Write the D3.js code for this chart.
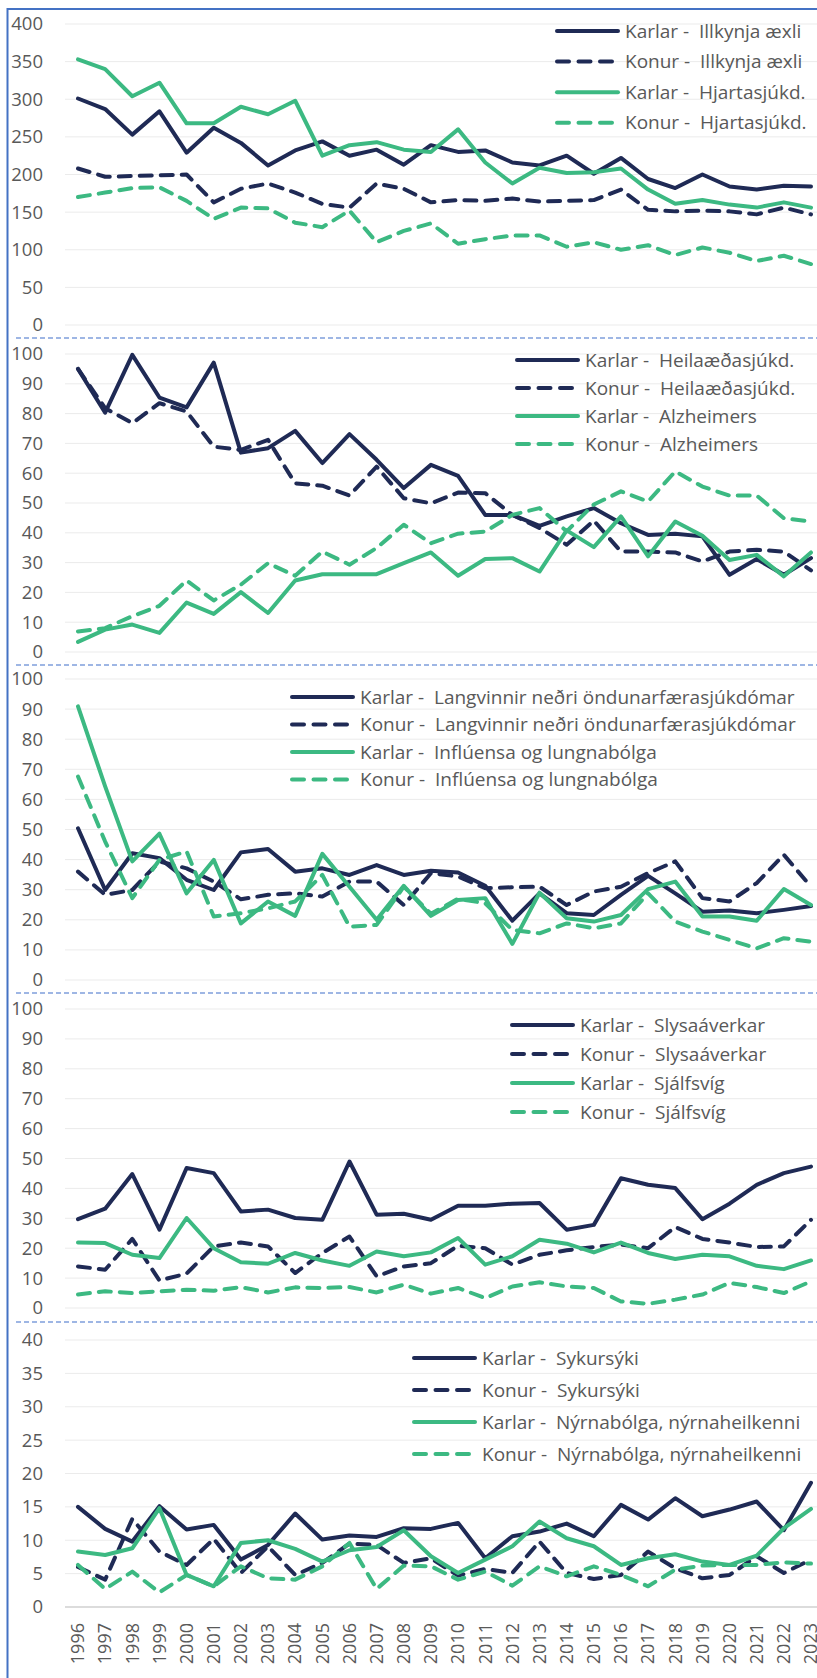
<!DOCTYPE html>
<html>
<head>
<meta charset="utf-8">
<script src="https://cdn.jsdelivr.net/npm/d3@7"></script>
<style>
  body { margin: 0; background: #fff; }
  svg { display: block; }
  text { font-family: "Open Sans", sans-serif; fill: #595959; }
</style>
</head>
<body>
<svg id="chart" width="817" height="1678"></svg>
<script>
// Years
let years = d3.range(1996, 2024)

// Panel 1
let illkynjaKarlar = [301, 287, 253, 284, 229, 262, 242, 212, 232, 244, 225, 233, 213, 239, 230, 232, 216, 212, 225, 201, 222, 194, 182, 200, 184, 180, 185, 184]
let illkynjaKonur = [208, 197, 198, 199, 200, 163, 181, 188, 176, 161, 156, 188, 181, 163, 166, 165, 168, 164, 165, 166, 180, 153, 151, 152, 151, 147, 156, 147]
let hjartaKarlar = [353, 340, 304, 322, 268, 268, 290, 280, 298, 225, 239, 243, 233, 230, 260, 216, 188, 209, 202, 203, 208, 180, 161, 166, 160, 156, 163, 156]
let hjartaKonur = [170, 176, 182, 183, 165, 141, 156, 155, 136, 130, 152, 110, 125, 135, 108, 114, 119, 119, 104, 110, 100, 106, 93, 103, 96, 85, 92, 81]

// Panel 2
let heilaKarlar = [95, 80.3, 99.7, 85.4, 82.1, 97.1, 66.9, 68.4, 74.2, 63.4, 73.1, 64.5, 55, 62.8, 59.1, 46, 46, 42.3, 45.5, 48.3, 43.2, 39.3, 39.7, 38.8, 25.9, 31.2, 25.9, 31.5]
let heilaKonur = [95, 81.8, 76.8, 83.5, 80.7, 68.9, 67.8, 71.2, 56.6, 55.8, 52.5, 62.2, 51.6, 49.9, 53.5, 53.3, 46, 41.6, 36, 44.1, 33.7, 33.7, 33.4, 30.4, 33.7, 34.3, 33.7, 27.4]
let alzKarlar = [3.4, 7.5, 9.2, 6.4, 16.6, 12.8, 20.1, 13.1, 24, 26.1, 26.1, 26.1, 29.8, 33.4, 25.6, 31.2, 31.5, 27, 40.8, 35.2, 45.5, 32.1, 43.8, 39, 30.9, 32.6, 25.4, 33.4]
let alzKonur = [6.9, 8, 12, 15.5, 24, 17.3, 22.6, 29.8, 25.6, 33.7, 29.3, 34.9, 42.7, 36.5, 39.7, 40.4, 46, 48.3, 40.5, 49.5, 53.9, 50.5, 60.6, 55.5, 52.5, 52.5, 44.9, 43.8]

// Panel 3
let langKarlar = [50.4, 29.9, 42.1, 40.5, 33.3, 29.9, 42.4, 43.5, 36, 37.1, 34.9, 38.2, 34.9, 36.3, 35.7, 31.3, 19.7, 28.8, 22.2, 21.6, 28.3, 34.6, 28.8, 22.7, 23.1, 22.2, 23.3, 24.6]
let langKonur = [36, 28.3, 29.9, 39.4, 37.1, 32.7, 26.8, 28.3, 28.8, 27.7, 32.7, 32.7, 24.9, 35.5, 34.4, 30.5, 30.8, 31, 24.9, 29.4, 31, 35.5, 39.4, 27.2, 26.1, 32.2, 41.6, 31]
let inflKarlar = [90.9, 64.3, 39.4, 48.6, 28.8, 39.9, 18.8, 26.1, 21.3, 41.9, 31, 20, 31.3, 21.3, 26.6, 27.2, 12, 29, 20.5, 19.4, 21.6, 30.2, 32.7, 21.1, 21.1, 19.7, 30.2, 24.9]
let inflKonur = [67.6, 46, 27.2, 39.9, 42.7, 21.1, 22.2, 23.8, 26.1, 34.9, 17.7, 18.3, 31, 22, 27, 25.5, 16.6, 15.5, 18.8, 17.2, 18.8, 28.8, 19.4, 16.1, 13.3, 10.5, 13.9, 12.7]

// Panel 4
let slysKarlar = [29.7, 33.2, 44.8, 26.2, 46.8, 45.1, 32.3, 32.9, 30.1, 29.5, 49, 31.2, 31.5, 29.5, 34.2, 34.2, 34.9, 35.1, 26.2, 27.8, 43.4, 41.2, 40.1, 29.7, 34.9, 41.2, 45.1, 47.3]
let slysKonur = [13.9, 12.8, 23.1, 9.2, 11.5, 20.6, 21.9, 20.6, 11.7, 18.4, 23.9, 10.6, 13.9, 15, 20.8, 20, 14.5, 17.8, 19.3, 20.4, 21.2, 20, 27.1, 23.1, 21.9, 20.4, 20.6, 29.5]
let sjalfKarlar = [21.9, 21.7, 17.8, 16.7, 30.1, 20, 15.3, 14.8, 18.4, 15.9, 14.1, 18.9, 17.3, 18.6, 23.4, 14.5, 17.3, 22.8, 21.5, 18.6, 21.9, 18.4, 16.4, 17.8, 17.3, 14.1, 13, 15.9]
let sjalfKonur = [4.5, 5.6, 5, 5.6, 6.1, 5.8, 7, 5.2, 6.9, 6.7, 7, 5.2, 7.8, 4.8, 6.7, 3.3, 7.2, 8.6, 7.2, 6.7, 2.2, 1.4, 2.8, 4.5, 8.4, 7, 5, 8.9]

// Panel 5
let sykurKarlar = [15, 11.7, 9.8, 15.1, 11.6, 12.3, 7.1, 9.3, 14, 10.1, 10.7, 10.5, 11.8, 11.7, 12.6, 7.3, 10.6, 11.3, 12.5, 10.6, 15.3, 13.1, 16.3, 13.6, 14.6, 15.8, 11.5, 18.6]
let sykurKonur = [6, 4.1, 13.2, 8.3, 6.3, 10.2, 5.1, 9.1, 4.8, 6.6, 9.5, 9.3, 6.6, 7.3, 4.7, 5.7, 5.1, 9.8, 5.1, 4.2, 4.8, 8.3, 5.8, 4.3, 4.8, 7.6, 5.1, 7.1]
let nyrnaKarlar = [8.3, 7.8, 8.8, 14.8, 4.8, 3.1, 9.6, 10, 8.7, 6.8, 8.5, 9, 11.5, 7.6, 5.1, 7.1, 9.1, 12.8, 10.3, 9.1, 6.3, 7.3, 7.9, 6.8, 6.3, 7.7, 11.8, 14.7]
let nyrnaKonur = [6.3, 2.7, 5.3, 2.2, 4.8, 3.1, 6.1, 4.3, 4.1, 6.1, 9.6, 2.7, 6.2, 6.1, 4.1, 5.3, 3.2, 6.1, 4.6, 6.1, 4.8, 3.1, 5.6, 6.2, 6.3, 6.3, 6.7, 6.5]

// Causes and tick values per panel
let causes = [
  ['Illkynja æxli', 'Hjartasjúkd.'],
  ['Heilaæðasjúkd.', 'Alzheimers'],
  ['Langvinnir neðri öndunarfærasjúkdómar', 'Inflúensa og lungnabólga'],
  ['Slysaáverkar', 'Sjálfsvíg'],
  ['Sykursýki', 'Nýrnabólga, nýrnaheilkenni']
]
let seriesData = [
  [illkynjaKarlar, illkynjaKonur, hjartaKarlar, hjartaKonur],
  [heilaKarlar, heilaKonur, alzKarlar, alzKonur],
  [langKarlar, langKonur, inflKarlar, inflKonur],
  [slysKarlar, slysKonur, sjalfKarlar, sjalfKonur],
  [sykurKarlar, sykurKonur, nyrnaKarlar, nyrnaKonur]
]
let tickValues = [
  d3.range(0, 401, 50),
  d3.range(0, 101, 10),
  d3.range(0, 101, 10),
  d3.range(0, 101, 10),
  d3.range(0, 41, 5)
]

// Layout of each panel
let panels = [
  { top: 24, bottom: 325, legX: 555, legY: 31, legStep: 30.6 },
  { top: 354, bottom: 652, legX: 515, legY: 360, legStep: 28 },
  { top: 679, bottom: 980, legX: 290, legY: 697, legStep: 27.5 },
  { top: 1009, bottom: 1308, legX: 510, legY: 1025, legStep: 29 },
  { top: 1340, bottom: 1607, legX: 412, legY: 1358, legStep: 32 }
]
let separators = [338, 665, 993, 1322]

let navy = '#1f2a55'
let green = '#3cb982'
let styles = [
  { color: navy, dash: null, sex: 'Karlar' },
  { color: navy, dash: '12,9', sex: 'Konur' },
  { color: green, dash: null, sex: 'Karlar' },
  { color: green, dash: '12,9', sex: 'Konur' }
]

let svg = d3.select('#chart')

let x = d3.scalePoint()
  .domain(years)
  .range([78, 811])

let gridLeft = 65
let gridRight = 830

panels.forEach((p, i) => {
  let ticks = tickValues[i]
  let y = d3.scaleLinear()
    .domain([0, d3.max(ticks)])
    .range([p.bottom, p.top])

  let g = svg.append('g')

  // Gridlines
  g.selectAll('.grid')
    .data(ticks)
    .enter()
    .append('line')
    .attr('x1', gridLeft)
    .attr('x2', gridRight)
    .attr('y1', d => y(d))
    .attr('y2', d => y(d))
    .attr('stroke', (d) => (i == 4 && d == 0) ? '#d0d0d0' : '#ebebeb')
    .attr('stroke-width', (d) => (i == 4 && d == 0) ? 1.5 : 1)

  // Tick labels
  g.selectAll('.tick')
    .data(ticks)
    .enter()
    .append('text')
    .attr('x', 43)
    .attr('y', d => y(d))
    .attr('dy', '0.35em')
    .attr('text-anchor', 'end')
    .style('font-size', '18.5px')
    .text(d => d)

  // Lines
  let line = d3.line()
    .x((d, j) => x(years[j]))
    .y(d => y(d))

  seriesData[i].forEach((values, k) => {
    g.append('path')
      .datum(values)
      .attr('d', line)
      .attr('fill', 'none')
      .attr('stroke', styles[k].color)
      .attr('stroke-width', 4)
      .attr('stroke-linejoin', 'round')
      .attr('stroke-linecap', 'round')
      .attr('stroke-dasharray', styles[k].dash)
  })

  // Legend
  let leg = g.append('g')
  styles.forEach((s, k) => {
    let ly = p.legY + k * p.legStep
    leg.append('line')
      .attr('x1', p.legX + 2)
      .attr('x2', p.legX + 63)
      .attr('y1', ly)
      .attr('y2', ly)
      .attr('stroke', s.color)
      .attr('stroke-width', 4)
      .attr('stroke-linecap', 'round')
      .attr('stroke-dasharray', s.dash ? '12,9.5' : null)
    leg.append('text')
      .attr('x', p.legX + 70)
      .attr('y', ly)
      .attr('dy', '0.35em')
      .style('font-size', '19px')
      .style('white-space', 'pre')
      .text(`${s.sex} -  ${causes[i][Math.floor(k / 2)]}`)
  })
})

// Dashed separators between panels
svg.selectAll('.sep')
  .data(separators)
  .enter()
  .append('line')
  .attr('x1', 16)
  .attr('x2', 817)
  .attr('y1', d => d)
  .attr('y2', d => d)
  .attr('stroke', '#7f9fdb')
  .attr('stroke-width', 1.5)
  .attr('stroke-dasharray', '5,3')

// X axis labels
svg.append('g')
  .selectAll('text')
  .data(years)
  .enter()
  .append('text')
  .attr('transform', d => `translate(${x(d)},1623) rotate(-90)`)
  .attr('dy', '0.35em')
  .attr('text-anchor', 'end')
  .style('font-size', '18px')
  .text(d => d)

// Outer frame
svg.append('rect')
  .attr('x', 7.5)
  .attr('y', 9)
  .attr('width', 900)
  .attr('height', 1700)
  .attr('fill', 'none')
  .attr('stroke', '#4472c4')
  .attr('stroke-width', 2)
</script>
</body>
</html>
